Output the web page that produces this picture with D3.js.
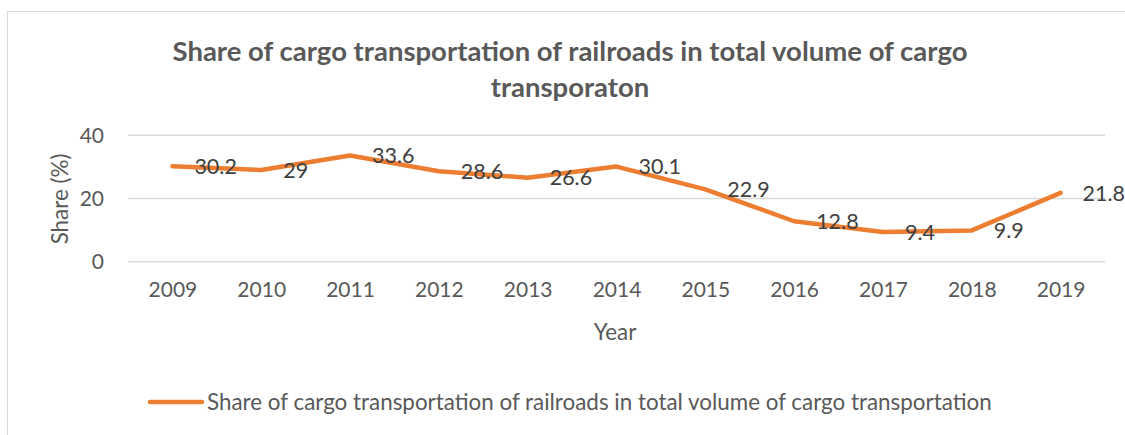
<!DOCTYPE html>
<html><head><meta charset="utf-8">
<script src="https://cdn.jsdelivr.net/npm/d3@7"></script>
<style>body{margin:0;background:#fff}svg{display:block}</style>
</head><body>
<svg id="c" width="1125" height="435"></svg>
<script>
const years = ["2009","2010","2011","2012","2013","2014","2015","2016","2017","2018","2019"];
const shares = [30.2, 29, 33.6, 28.6, 26.6, 30.1, 22.9, 12.8, 9.4, 9.9, 21.8];
const yTicks = [0, 20, 40];
const titleLines = ["Share of cargo transportation of railroads in total volume of cargo", "transporaton"];
const seriesName = "Share of cargo transportation of railroads in total volume of cargo transportation";

const svg = d3.select("#c");
const FONT = "Lato, 'Open Sans', sans-serif";
const grey = "#595959";

svg.append("rect").attr("x",7.5).attr("y",11.5).attr("width",1140).attr("height",440)
  .attr("fill","#fff").attr("stroke","#d9d9d9").attr("stroke-width",1);

const x = d3.scalePoint().domain(years).range([172.4, 1060.6]);
const y = d3.scaleLinear().domain([0,40]).range([261.7,135.3]);

// title
const t = svg.append("text").attr("text-anchor","middle").attr("font-family",FONT)
  .attr("font-weight","bold").attr("font-size",27.5).attr("fill",grey);
titleLines.forEach((l,i)=>t.append("tspan").attr("x",570).attr("y",61+i*36).text(l));

// gridlines
svg.append("g").selectAll("line").data(yTicks).join("line")
  .attr("x1",128).attr("x2",1105).attr("y1",d=>y(d)).attr("y2",d=>y(d))
  .attr("stroke","#d9d9d9").attr("stroke-width",1.5);

// y axis labels
const yAxis = d3.axisLeft(y).tickValues(yTicks).tickSize(0).tickPadding(0);
const gy = svg.append("g").attr("transform","translate(104,0)").call(yAxis);
gy.select(".domain").remove();
gy.selectAll("text").attr("font-family",FONT).attr("font-size",21).attr("fill",grey);

// x axis labels
const xAxis = d3.axisBottom(x).tickSize(0).tickPadding(0);
const gx = svg.append("g").attr("transform","translate(0,282)").call(xAxis);
gx.select(".domain").remove();
gx.selectAll("text").attr("font-family",FONT).attr("font-size",21).attr("fill",grey);

// axis titles
svg.append("text").attr("transform","translate(68,199) rotate(-90)").attr("text-anchor","middle")
  .attr("font-family",FONT).attr("font-size",22.4).attr("fill",grey).text("Share (%)");
svg.append("text").attr("x",615).attr("y",340).attr("text-anchor","middle")
  .attr("font-family",FONT).attr("font-size",22.4).attr("fill",grey).text("Year");

// line
const line = d3.line().x((d,i)=>x(years[i])).y(d=>y(d));
svg.append("path").datum(shares).attr("d",line).attr("fill","none")
  .attr("stroke","#ED7D31").attr("stroke-width",4.5).attr("stroke-linecap","round").attr("stroke-linejoin","round");

// data labels
svg.append("g").selectAll("text").data(shares).join("text")
  .attr("x",(d,i)=>x(years[i])+22).attr("y",d=>y(d)).attr("dy","0.36em")
  .attr("font-family",FONT).attr("font-size",21.5).attr("fill","#404040").text(d=>d);

// legend
svg.append("line").attr("x1",150).attr("x2",202).attr("y1",402).attr("y2",402)
  .attr("stroke","#ED7D31").attr("stroke-width",4.5).attr("stroke-linecap","round");
svg.append("text").attr("x",207).attr("y",410).attr("font-family",FONT).attr("font-size",22.4)
  .attr("fill",grey).text(seriesName);
</script>
</body></html>
